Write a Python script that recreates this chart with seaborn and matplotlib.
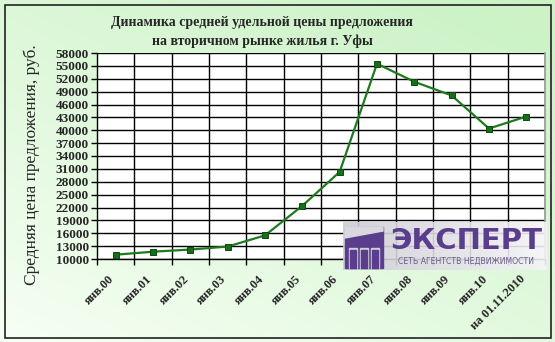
import numpy as np
import pandas as pd
import matplotlib
matplotlib.use("Agg")
import matplotlib.pyplot as plt
import matplotlib.transforms as mtrans
import seaborn as sns
from matplotlib.patches import Rectangle, Polygon
from matplotlib.ticker import FixedLocator

# ---- data ----
categories = ["янв.00", "янв.01", "янв.02", "янв.03", "янв.04", "янв.05",
              "янв.06", "янв.07", "янв.08", "янв.09", "янв.10", "на 01.11.2010"]
prices = [11000, 11700, 12200, 12900, 15500, 22400,
          30300, 55500, 51300, 48100, 40400, 43200]
y_ticks = list(range(10000, 58001, 3000))
title_text = "Динамика средней удельной цены предложения\nна вторичном рынке жилья г. Уфы"
ylabel_text = "Средняя цена предложения, руб."
logo_main = "ЭКСПЕРТ"
logo_sub = "СЕТЬ АГЕНТСТВ НЕДВИЖИМОСТИ"

df = pd.DataFrame({"pos": np.arange(len(categories)), "price": prices})

sns.set_theme(style="white")
plt.rcParams["font.family"] = ["Liberation Serif", "DejaVu Serif"]

W, H = 555, 342
fig = plt.figure(figsize=(W / 100, H / 100), dpi=100)

# ---- gradient background ----
bg = fig.add_axes([0, 0, 1, 1], zorder=-10)
gx, gy = np.meshgrid(np.linspace(0, 1, 200), np.linspace(0, 1, 200))
t = np.clip(0.55 * gx + 0.75 * gy, 0, 1.2) / 1.2
c0 = np.array([0.965, 1.0, 0.955])
c1 = np.array([0.80, 0.95, 0.78])
img = c0[None, None, :] * (1 - t[..., None]) + c1[None, None, :] * t[..., None]
bg.imshow(img, extent=[0, 1, 0, 1], origin="lower", aspect="auto")
bg.add_patch(Rectangle((4.5 / W, 1 - 337.5 / H), (550.5 - 4.5) / W, (337.5 - 4.5) / H,
                       fill=False, edgecolor="#222222", lw=1.2, transform=bg.transAxes))
bg.set_xlim(0, 1); bg.set_ylim(0, 1)
bg.axis("off")

# ---- main axes ----
L, R, T, B = 97, 545, 53, 259
ax = fig.add_axes([L / W, 1 - B / H, (R - L) / W, (B - T) / H])
ax.set_facecolor("white")
sns.lineplot(data=df, x="pos", y="price", ax=ax, color="#1f7a1f", lw=1.6,
             marker="s", markersize=5, markerfacecolor="#16701a",
             markeredgecolor="#0d4a0d", markeredgewidth=0.7, zorder=5)

n = len(categories)
ax.set_xlim(-0.5, n - 0.5)
ax.set_ylim(10000, 58000)
ax.set_xticks(np.arange(n))
ax.xaxis.set_minor_locator(FixedLocator(np.arange(-0.5, n, 1.0)))
ax.tick_params(axis="x", which="major", length=0, pad=0)
ax.tick_params(axis="x", which="minor", length=4, width=1, color="black", direction="out", bottom=True)
ax.set_yticks(y_ticks)
ax.set_yticklabels([str(v) for v in y_ticks], fontsize=9.5, fontweight="bold")
ax.tick_params(axis="y", length=4, width=1, color="black", direction="out", left=True, pad=2)
ax.set_xticklabels(categories, rotation=45, ha="right", va="center",
                   rotation_mode="anchor", fontsize=9, fontweight="bold")
shift = mtrans.ScaledTranslation(-3 / 100, -18 / 100, fig.dpi_scale_trans)
for lbl in ax.get_xticklabels():
    lbl.set_transform(lbl.get_transform() + shift)
ax.grid(False)
for v in y_ticks:
    ax.axhline(v, color="black", lw=1.0, zorder=1)
for xb in np.arange(0.5, n - 0.5, 1.0):
    ax.axvline(xb, color="black", lw=1.0, zorder=1)
for s in ["left", "bottom"]:
    ax.spines[s].set_color("black"); ax.spines[s].set_linewidth(1.0)
ax.spines["top"].set_visible(False)
ax.spines["right"].set_color("#999999")
ax.set_xlabel("")
ax.set_ylabel(ylabel_text, fontsize=12.5)
ax.yaxis.set_label_coords(-0.127, 0.456)

fig.text(262 / W, 1 - 32 / H, title_text, ha="center", va="center",
         fontsize=10, fontweight="bold", linespacing=1.6)

# ---- logo ----
lx0, ly0, lx1, ly1 = 343, 222, 547, 270
lg = fig.add_axes([lx0 / W, 1 - ly1 / H, (lx1 - lx0) / W, (ly1 - ly0) / H], zorder=10)
lw_, lh_ = lx1 - lx0, ly1 - ly0
lg.set_xlim(0, lw_); lg.set_ylim(lh_, 0)
grad = np.linspace(0, 1, 100)[None, :]
gimg = np.dstack([0.80 + 0.16 * grad, 0.80 + 0.16 * grad, 0.83 + 0.14 * grad])
lg.imshow(gimg, extent=[0, lw_, lh_, 0], aspect="auto", alpha=0.9)
purple = "#5a3d8c"
lg.add_patch(Rectangle((2, 5), 38, 41, color=purple))
lg.add_patch(Polygon([[2, 5], [40, 5], [40, 9], [2, 16]], color="#d8d8de"))
for cx in [10, 21, 32]:
    lg.add_patch(Rectangle((cx - 4, 26), 8, 20, color="#cfcfd6"))
    lg.add_patch(Rectangle((cx - 3, 28), 6, 18, color=purple))
lg.text(123, 19, logo_main, ha="center", va="center", color=purple,
        fontsize=21, fontweight="bold", family=["DejaVu Sans"])
lg.text(123, 39, logo_sub, ha="center", va="center", color="#6a5a8a",
        fontsize=5.6, family=["DejaVu Sans"])
lg.axis("off")

fig.savefig("out.png", dpi=100)
